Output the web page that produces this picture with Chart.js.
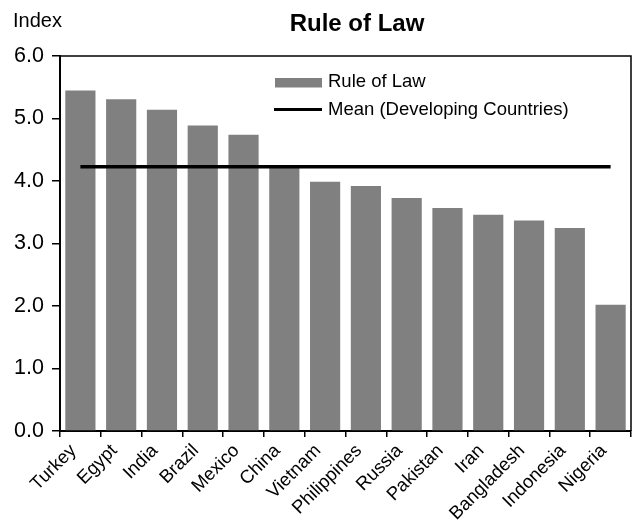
<!DOCTYPE html>
<html>
<head>
<meta charset="utf-8">
<script src="https://cdn.jsdelivr.net/npm/chart.js@4.4.1/dist/chart.umd.min.js"></script>
<style>
  html, body { margin: 0; padding: 0; background: #fff; }
  #wrap { width: 634px; height: 527px; position: relative; }
</style>
</head>
<body>
<div id="wrap"><canvas id="c" width="634" height="527"></canvas></div>
<script>
const categories = ["Turkey", "Egypt", "India", "Brazil", "Mexico", "China", "Vietnam", "Philippines", "Russia", "Pakistan", "Iran", "Bangladesh", "Indonesia", "Nigeria"];
const ruleOfLaw = [5.45, 5.31, 5.14, 4.89, 4.74, 4.22, 3.99, 3.92, 3.73, 3.57, 3.46, 3.37, 3.25, 2.02];
const meanValue = 4.23;
const meanDeveloping = categories.map(() => meanValue);
const yTicks = [0, 1, 2, 3, 4, 5, 6];
const chartTitle = "Rule of Law";
const yAxisTitle = "Index";
const FONT = "'Liberation Sans', Arial, sans-serif";

const decorPlugin = {
  id: 'decor',
  afterDraw(chart) {
    const ctx = chart.ctx;
    const a = chart.chartArea;
    ctx.save();
    // frame top & right
    ctx.strokeStyle = '#000';
    ctx.lineWidth = 1.5;
    ctx.beginPath();
    ctx.moveTo(a.left, a.top);
    ctx.lineTo(a.right, a.top);
    ctx.lineTo(a.right, a.bottom);
    ctx.stroke();
    // title
    ctx.fillStyle = '#000';
    ctx.font = "bold 24px " + FONT;
    ctx.textAlign = 'center';
    ctx.textBaseline = 'middle';
    ctx.fillText(chartTitle, 357, 24);
    // y axis title
    ctx.font = "20px " + FONT;
    ctx.textAlign = 'left';
    ctx.fillText(yAxisTitle, 13, 21);
    // legend
    const barDs = chart.data.datasets.find(d => d.type === 'bar');
    const lineDs = chart.data.datasets.find(d => d.type === 'line');
    ctx.font = "18.5px " + FONT;
    ctx.textBaseline = 'middle';
    ctx.fillStyle = barDs.backgroundColor;
    ctx.fillRect(275, 78, 47, 9.5);
    ctx.fillStyle = '#000';
    ctx.fillText(barDs.label, 328, 82);
    ctx.strokeStyle = lineDs.borderColor;
    ctx.lineWidth = 3;
    ctx.beginPath();
    ctx.moveTo(274, 109.5);
    ctx.lineTo(322, 109.5);
    ctx.stroke();
    ctx.fillText(lineDs.label, 328, 110);
    ctx.restore();
  }
};

new Chart(document.getElementById('c'), {
  data: {
    labels: categories,
    datasets: [
      {
        type: 'line',
        label: 'Mean (Developing Countries)',
        data: meanDeveloping,
        borderColor: '#000',
        borderWidth: 3.5,
        pointRadius: 0,
        fill: false,
        order: 0
      },
      {
        type: 'bar',
        label: 'Rule of Law',
        data: ruleOfLaw,
        backgroundColor: '#808080',
        borderWidth: 0,
        barPercentage: 0.74,
        categoryPercentage: 1.0,
        order: 1
      }
    ]
  },
  options: {
    responsive: false,
    animation: false,
    devicePixelRatio: 1,
    layout: { padding: { top: 56, right: 3, left: 0, bottom: 0 } },
    plugins: {
      legend: { display: false },
      title: { display: false },
      tooltip: { enabled: false }
    },
    scales: {
      x: {
        type: 'category',
        offset: true,
        grid: { offset: true, drawOnChartArea: false, drawTicks: true, tickLength: 6, color: '#000', lineWidth: 1.5 },
        border: { display: true, color: '#000', width: 2 },
        ticks: {
          color: '#000',
          font: { family: FONT, size: 18.5 },
          maxRotation: 45,
          minRotation: 45,
          autoSkip: false,
          padding: 3,
          labelOffset: -7
        },
        afterFit(scale) { scale.height = 96; }
      },
      y: {
        min: 0,
        max: 6,
        afterBuildTicks(scale) { scale.ticks = yTicks.map(v => ({ value: v })); },
        grid: { drawOnChartArea: false, drawTicks: true, tickLength: 8, color: '#000', lineWidth: 1.5 },
        border: { display: true, color: '#000', width: 2 },
        ticks: {
          color: '#000',
          font: { family: FONT, size: 21.5 },
          padding: 8,
          callback: (v) => Number(v).toFixed(1)
        },
        afterFit(scale) { scale.width = 60; }
      }
    }
  },
  plugins: [decorPlugin]
});
</script>
</body>
</html>
